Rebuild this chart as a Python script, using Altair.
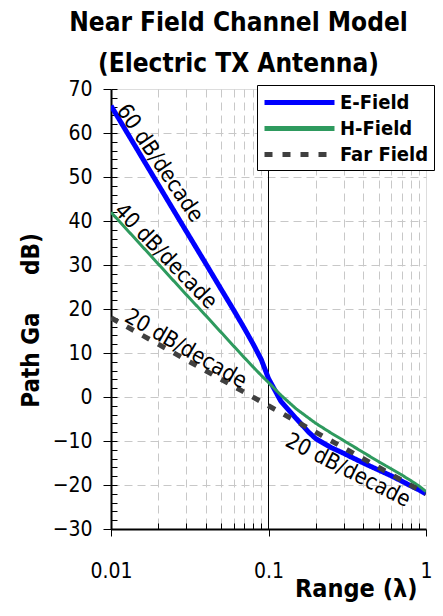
import altair as alt
import pandas as pd

# ---------------- data ----------------
series_names = ["E-Field", "H-Field", "Far Field"]

range_e = [0.01, 0.02, 0.03, 0.04, 0.05, 0.06, 0.07, 0.08, 0.09, 0.1, 0.12, 0.15,
           0.18, 0.2, 0.25, 0.3, 0.4, 0.5, 0.6, 0.7, 0.8, 0.9, 1.0]
e_field = [66.2, 48.2, 37.7, 30.3, 24.5, 19.8, 15.7, 12.0, 8.5, 4.2, -1.0, -4.9,
           -8.0, -9.5, -11.5, -12.8, -15.0, -16.6, -17.9, -19.1, -20.2, -21.1, -22.0]

range_h = [0.01, 0.02, 0.03, 0.04, 0.05, 0.06, 0.07, 0.08, 0.09, 0.1, 0.12, 0.15,
           0.18, 0.2, 0.25, 0.3, 0.4, 0.5, 0.6, 0.7, 0.8, 0.9, 1.0]
h_field = [42.0, 30.2, 23.3, 18.5, 14.7, 11.6, 9.0, 6.8, 4.9, 3.3, 0.4, -2.7,
           -4.8, -6.0, -8.2, -9.9, -12.6, -14.7, -16.3, -17.7, -19.0, -20.2, -21.5]

range_far = [0.01, 0.1, 1.0]
far_field = [18.0, -2.0, -22.0]

x_major = [0.01, 0.1, 1]
x_minor = [0.02, 0.03, 0.04, 0.05, 0.06, 0.07, 0.08, 0.09,
           0.2, 0.3, 0.4, 0.5, 0.6, 0.7, 0.8, 0.9]
y_major = list(range(-30, 71, 10))
y_minor = list(range(-30, 71, 2))
ref_x = [0.1]

ann_text = ["60 dB/decade", "40 dB/decade", "20 dB/decade", "20 dB/decade"]
ann_x = [0.0205, 0.0223, 0.0299, 0.32]
ann_y = [53.2, 32.0, 11.0, -16.6]
ann_angle = [56, 46, 30, 27]

# ---------------- styles ----------------
colors = ["#0000FF", "#2E9A5E", "#404040"]
widths = [5, 3, 5]
dashes = [[1, 0], [1, 0], [8, 10]]
FONT = "DejaVu Sans Condensed, DejaVu Sans"

lines_df = pd.concat([
    pd.DataFrame({"range": range_e, "gain": e_field, "series": series_names[0], "w": widths[0]}),
    pd.DataFrame({"range": range_h, "gain": h_field, "series": series_names[1], "w": widths[1]}),
    pd.DataFrame({"range": range_far, "gain": far_field, "series": series_names[2], "w": widths[2]}),
], ignore_index=True)

ann_df = pd.DataFrame({"label": ann_text, "range": ann_x, "gain": ann_y, "angle": ann_angle})
ref_df = pd.DataFrame({"range": ref_x})
minor_df = pd.DataFrame({"range": [0.01, 1.0], "gain": [-30, 70]})

xscale = alt.Scale(type="log", domain=[0.01, 1], nice=False)
yscale = alt.Scale(domain=[-30, 70], nice=False, zero=False)

grid_color = "#c8c8c8"

lines = alt.Chart(lines_df).mark_line(clip=True).encode(
    x=alt.X("range:Q", scale=xscale, axis=alt.Axis(
        values=x_major, format="~g", grid=False, tickSize=7, tickColor="black",
        tickWidth=1, domainColor="black", domainWidth=2, labelFlush=False,
        labelFont=FONT, labelFontSize=21, labelColor="black", labelPadding=24,
        title="Range (\u03bb)", titleFont=FONT, titleFontSize=25, titleFontWeight="bold",
        titleColor="black", titleX=306, titleY=67, titleAlign="right",
        titleBaseline="alphabetic", orient="bottom")),
    y=alt.Y("gain:Q", scale=yscale, axis=alt.Axis(
        values=y_major, grid=True, gridDash=[8, 5],
        gridColor=alt.condition("datum.value == 70 || datum.value == -30",
                                alt.value("transparent"), alt.value(grid_color)),
        tickSize=8, tickColor="black", domainColor="black", domainWidth=2,
        labelFont=FONT, labelFontSize=21, labelColor="black", labelPadding=11,
        labelFlush=False,
        title="Path Ga\u00a0\u00a0\u00a0\u00a0\u00a0dB)", titleFont=FONT, titleFontSize=24,
        titleFontWeight="bold", titleColor="black", titleAngle=-90, titleX=-73,
        titleY=231, titleAlign="center", titleBaseline="alphabetic", orient="left")),
    color=alt.Color("series:N", scale=alt.Scale(domain=series_names, range=colors),
                    legend=alt.Legend(
                        orient="none", legendX=146, legendY=-4, title=None,
                        symbolType="M-3.5,0H3.5", symbolSize=400, symbolStrokeWidth=5,
                        symbolOffset=25, symbolFillColor="transparent",
                        labelFont=FONT, labelFontSize=20, labelFontWeight="bold",
                        labelColor="black", labelOffset=28, rowPadding=3,
                        strokeColor="black", fillColor="white", padding=5)),
    strokeDash=alt.StrokeDash("series:N", scale=alt.Scale(domain=series_names, range=dashes)),
    strokeWidth=alt.StrokeWidth("w:Q", scale=None, legend=None),
    detail="series:N",
)

ref_rule = alt.Chart(ref_df).mark_rule(color="black", strokeWidth=1).encode(
    x=alt.X("range:Q", scale=xscale, axis=None)
)

texts = alt.Chart(ann_df).mark_text(font=FONT, fontSize=22, color="black",
                                    baseline="middle", align="center").encode(
    x=alt.X("range:Q", scale=xscale, axis=None),
    y=alt.Y("gain:Q", scale=yscale, axis=None),
    text="label:N",
    angle=alt.Angle("angle:Q", scale=None),
)

minor_axes = alt.Chart(minor_df).mark_point(opacity=0).encode(
    x=alt.X("range:Q", scale=xscale, axis=alt.Axis(
        values=x_minor, orient="bottom", grid=True, gridDash=[8, 5], gridColor=grid_color,
        labels=False, domain=False, tickSize=6, tickColor="black", offset=-6, title=None)),
    y=alt.Y("gain:Q", scale=yscale, axis=alt.Axis(
        values=y_minor, orient="left", grid=False, labels=False, domain=False,
        tickSize=6, tickColor="black", offset=-6, title=None)),
)

chart = alt.layer(minor_axes, ref_rule, lines, texts).resolve_scale(
    x="independent", y="independent"
).resolve_axis(
    x="independent", y="independent"
).properties(
    width=315, height=440,
    autosize=alt.AutoSizeParams(type="none"),
    padding={"left": 103, "top": 81, "right": 9, "bottom": 76},
    title=alt.TitleParams(["Near Field Channel Model", "(Electric TX Antenna)"],
                          font=FONT, fontSize=26, fontWeight="bold", color="black",
                          lineHeight=41, anchor="middle", frame="group", dx=-30,
                          offset=1),
).configure_view(stroke="black", strokeWidth=1).configure(background="white")

chart.save("out.html", embed_options={"renderer": "svg", "actions": False})
